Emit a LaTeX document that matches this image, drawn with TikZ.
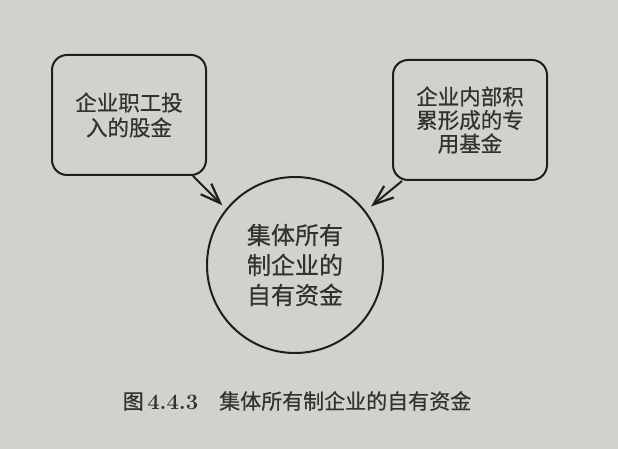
\documentclass[tikz,border=0pt]{standalone}
\usepackage{fontspec}
\newfontfamily\cjk[FakeBold=0.6]{Noto Sans CJK SC}
\usetikzlibrary{arrows.meta,calc}
\definecolor{bg}{RGB}{210,210,205}
\definecolor{ink}{RGB}{30,30,30}
\definecolor{txt}{RGB}{50,50,50}
\begin{document}
\begin{tikzpicture}[x=1pt,y=1pt,
  box/.style={draw=ink,line width=2pt,rounded corners=15pt,minimum width=154pt,minimum height=120pt,inner sep=0pt},
  hub/.style={draw=ink,line width=2pt,circle,minimum size=176pt,inner sep=0pt},
  lbl/.style={text=txt,align=center,font=\cjk\fontsize{21.5}{25}\selectfont},
  feed/.style={draw=ink,line width=2pt,-{Straight Barb[length=20pt,width=15pt,line width=2.2pt]}}]
\fill[bg] (0,0) rectangle (618,449);
\useasboundingbox (0,0) rectangle (618,449);
\node[box,lbl] (l) at (129,334) {企业职工投\\入的股金};
\node[box,lbl,font=\cjk\fontsize{21.5}{23.5}\selectfont] (r) at (470,329) {企业内部积\\累形成的专\\用基金};
\node[hub,lbl,font=\cjk\fontsize{24}{30}\selectfont] (c) at (295,184) {集体所有\\制企业的\\自有资金};
\coordinate (ls) at ($(l.south east)+(-14,0)$);
\coordinate (rs) at ($(r.south west)+(10,0)$);
\coordinate (lt) at ($(c.center)+(140.6:94)$);
\coordinate (rt) at ($(c.center)+(37.6:96)$);
\draw[feed] (ls) -- (lt);
\draw[feed] (rs) -- (rt);
\node[text=txt,font=\cjk\fontsize{21}{24}\selectfont] (cap) at (297,48) {图\,{\rmfamily\bfseries\fontsize{22}{24}\selectfont 4.4.3}\quad 集体所有制企业的自有资金};
\end{tikzpicture}
\end{document}
